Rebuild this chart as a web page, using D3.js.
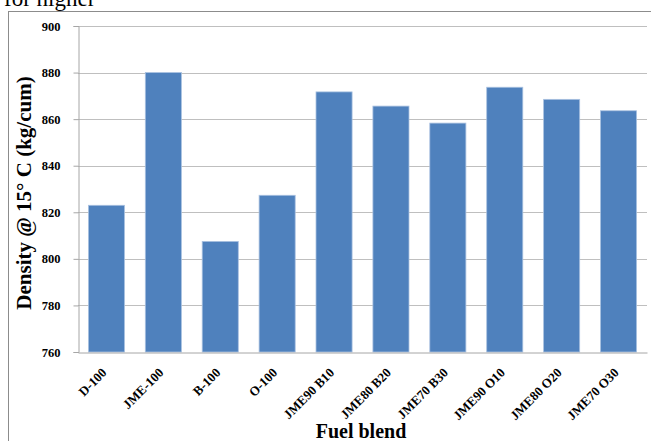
<!DOCTYPE html>
<html>
<head>
<meta charset="utf-8">
<script src="https://cdn.jsdelivr.net/npm/d3@7/dist/d3.min.js"></script>
<style>
  html, body { margin: 0; padding: 0; background: #fff; }
  svg { display: block; }
</style>
</head>
<body>
<script>
const categories = ["D-100", "JME-100", "B-100", "O-100", "JME90 B10", "JME80 B20", "JME70 B30", "JME90 O10", "JME80 O20", "JME70 O30"];
const densityValues = [823, 880, 807.5, 827.3, 871.7, 865.6, 858.3, 873.7, 868.5, 863.6];
const yTicks = [760, 780, 800, 820, 840, 860, 880, 900];
const yTitle = "Density @ 15\u00B0 C (kg/cum)";
const xTitle = "Fuel blend";
const topText = "for higher";

const W = 651, H = 441;
const margin = { left: 78, right: 4, top: 26, bottom: 89 };
const serif = "'Liberation Serif', 'Times New Roman', serif";

const svg = d3.select("body").append("svg").attr("width", W).attr("height", H);

// stray text above chart frame
svg.append("text").attr("x", 4).attr("y", 6)
  .attr("font-family", serif).attr("font-size", 23).attr("fill", "#000")
  .text(topText);

// outer frame
svg.append("rect").attr("x", 8.5).attr("y", 11.5).attr("width", 660).attr("height", 460)
  .attr("fill", "none").attr("stroke", "#8c8c8c").attr("stroke-width", 1);

const x = d3.scaleBand().domain(categories).range([margin.left, W - margin.right]).paddingInner(0.366).paddingOuter(0.183);
const y = d3.scaleLinear().domain([760, 900]).range([H - margin.bottom, margin.top]);

// gridlines
svg.append("g").selectAll("line").data(yTicks.filter(d => d > 760)).join("line")
  .attr("x1", margin.left).attr("x2", W - margin.right)
  .attr("y1", d => Math.round(y(d)) + 0.5).attr("y2", d => Math.round(y(d)) + 0.5)
  .attr("stroke", "#bfbfbf").attr("stroke-width", 1);

// bars
svg.append("g").selectAll("rect").data(densityValues).join("rect")
  .attr("x", (d, i) => x(categories[i]))
  .attr("width", x.bandwidth())
  .attr("y", d => y(d))
  .attr("height", d => y(760) - y(d))
  .attr("fill", "#4f81bd")
  .attr("stroke", "#a9c1e0").attr("stroke-width", 0.8);

// y axis
const yAxis = svg.append("g").attr("transform", `translate(${margin.left + 0.5},0)`)
  .call(d3.axisLeft(y).tickValues(yTicks).tickSize(5).tickPadding(13).tickFormat(d3.format("d")));
yAxis.select(".domain").attr("stroke", "#a6a6a6");
yAxis.selectAll(".tick line").attr("stroke", "#a6a6a6");
yAxis.selectAll(".tick text").attr("font-family", serif).attr("font-size", 12.5)
  .attr("font-weight", "bold").attr("fill", "#000");

// x axis
const baseY = Math.round(y(760)) + 0.5;
const xAxis = svg.append("g").attr("transform", `translate(0,${baseY})`)
  .call(d3.axisBottom(x).tickSize(0).tickFormat(""));
xAxis.select(".domain").attr("stroke", "#a6a6a6");

const xl = svg.append("g").selectAll("g").data(categories).join("g")
  .attr("transform", d => `translate(${x(d) + x.bandwidth() / 2 + 1},${baseY + 21})`);
xl.append("text")
  .attr("transform", "rotate(-45)")
  .attr("text-anchor", "end")
  .attr("font-family", serif).attr("font-size", 13).attr("font-weight", "bold").attr("fill", "#000")
  .text(d => d);

// axis titles
svg.append("text")
  .attr("transform", `translate(31,${(margin.top + H - margin.bottom) / 2 + 4}) rotate(-90)`)
  .attr("text-anchor", "middle")
  .attr("font-family", serif).attr("font-size", 21).attr("font-weight", "bold").attr("fill", "#000")
  .text(yTitle);

svg.append("text")
  .attr("x", 361).attr("y", 438)
  .attr("text-anchor", "middle")
  .attr("font-family", serif).attr("font-size", 20).attr("font-weight", "bold").attr("fill", "#000")
  .text(xTitle);
</script>
</body>
</html>
